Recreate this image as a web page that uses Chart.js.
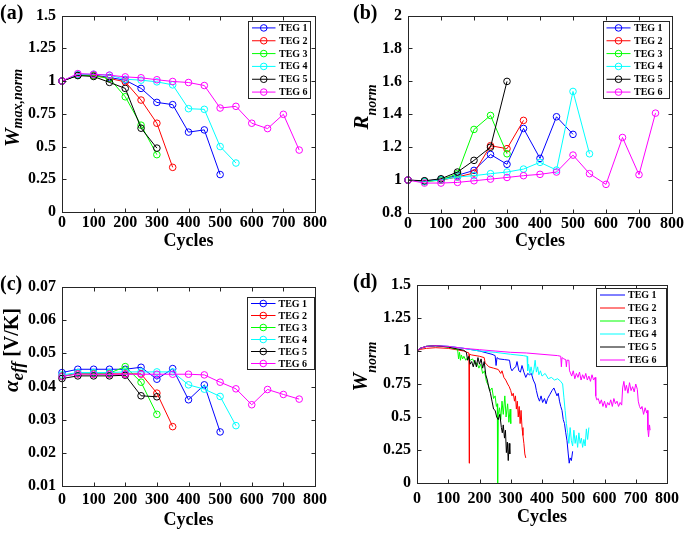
<!DOCTYPE html>
<html><head><meta charset="utf-8">
<script src="https://cdn.jsdelivr.net/npm/chart.js@4.4.1/dist/chart.umd.min.js"></script>
<style>
html,body{margin:0;padding:0;background:#fff;}
#wrap{position:relative;width:685px;height:533px;overflow:hidden;background:#fff;}
canvas{position:absolute;}
</style></head><body>
<div id="wrap">
<canvas id="ca" width="342" height="262" style="left:0;top:0"></canvas>
<canvas id="cb" width="343" height="262" style="left:342px;top:0"></canvas>
<canvas id="cc" width="342" height="271" style="left:0;top:262px"></canvas>
<canvas id="cd" width="343" height="271" style="left:342px;top:262px"></canvas>
</div>
<script>
// ---------- data ----------
const tegNames = ['TEG 1','TEG 2','TEG 3','TEG 4','TEG 5','TEG 6'];
const tegColors = ['#0000ff','#ff0000','#00ff00','#00ffff','#000000','#ff00ff'];
const cycles = [0,50,100,150,200,250,300,350,400,450,500,550,600,650,700,750];

const xTicks = [0,100,200,300,400,500,600,700,800];
const xTickLabels = ['0','100','200','300','400','500','600','700','800'];

// (a) W max,norm
const wTicks = [0,0.25,0.5,0.75,1,1.25,1.5];
const wTickLabels = ['0','0.25','0.5','0.75','1','1.25','1.5'];
const wmax1 = [1,1.045,1.047,1.027,1.007,0.944,0.837,0.82,0.61,0.627,0.286];
const wmax2 = [1,1.045,1.045,1.02,0.994,0.855,0.678,0.341];
const wmax3 = [1,1.045,1.04,1.02,0.88,0.663,0.438];
const wmax4 = [1,1.052,1.052,1.045,1.014,1.007,0.994,0.971,0.789,0.784,0.5,0.374];
const wmax5 = [1,1.042,1.035,0.99,0.944,0.64,0.488];
const wmax6 = [1,1.057,1.052,1.045,1.032,1.025,1.01,0.997,0.989,0.966,0.794,0.807,0.678,0.637,0.746,0.473];

// (b) R norm
const rTicks = [0.8,1,1.2,1.4,1.6,1.8,2];
const rTickLabels = ['0.8','1','1.2','1.4','1.6','1.8','2'];
const r1 = [1,0.994,1.004,1.029,1.059,1.156,1.096,1.314,1.132,1.385,1.278];
const r2 = [1,0.994,1.0,1.019,1.043,1.209,1.191,1.363];
const r3 = [1,0.99,1.0,1.039,1.308,1.393,1.16];
const r4 = [1,0.992,1.002,1.019,1.027,1.039,1.049,1.067,1.108,1.061,1.539,1.16];
const r5 = [1,0.996,1.008,1.049,1.12,1.2,1.6];
const r6 = [1,0.982,0.982,0.986,0.996,1.006,1.016,1.027,1.035,1.049,1.152,1.039,0.974,1.259,1.033,1.407];

// (c) alpha eff
const aTicks = [0.01,0.02,0.03,0.04,0.05,0.06,0.07];
const aTickLabels = ['0.01','0.02','0.03','0.04','0.05','0.06','0.07'];
const a1 = [0.0442,0.0452,0.0452,0.0452,0.0452,0.0458,0.0422,0.0454,0.036,0.0405,0.0263];
const a2 = [0.0432,0.0438,0.0438,0.0438,0.0438,0.0438,0.038,0.0279];
const a3 = [0.043,0.044,0.044,0.044,0.046,0.0413,0.0316];
const a4 = [0.0435,0.0442,0.0442,0.0442,0.0444,0.0444,0.0444,0.0444,0.0405,0.0392,0.037,0.0282];
const a5 = [0.0424,0.0432,0.0432,0.0432,0.0434,0.0372,0.0369];
const a6 = [0.043,0.0438,0.0437,0.0437,0.0437,0.0437,0.0437,0.0437,0.0437,0.0435,0.0413,0.0393,0.0345,0.0391,0.0376,0.0362];

// (d) W norm, [cycle, value]
const dTEG1 = [[0,1.0],[10,1.02],[30,1.035],[60,1.04],[100,1.035],[150,1.02],[200,1.0],[240,0.975],[250,0.965],[253,0.89],[256,0.95],[262,0.94],[280,0.935],[296,0.93],[300,0.87],[304,0.85],[310,0.87],[316,0.88],[320,0.92],[326,0.85],[331,0.84],[336,0.89],[342,0.84],[348,0.80],[354,0.83],[360,0.82],[366,0.83],[372,0.78],[378,0.75],[382,0.70],[387,0.65],[392,0.62],[397,0.66],[402,0.61],[408,0.64],[413,0.60],[418,0.64],[425,0.67],[432,0.70],[438,0.72],[443,0.69],[448,0.66],[452,0.68],[456,0.62],[460,0.58],[464,0.55],[468,0.48],[472,0.45],[476,0.38],[480,0.32],[484,0.22],[487,0.15],[490,0.19],[494,0.17],[498,0.24]];
const dTEG2 = [[0,1.0],[10,1.012],[30,1.02],[60,1.025],[100,1.02],[150,1.0],[166,0.985],[167,0.15],[168,0.975],[175,0.97],[200,0.96],[215,0.95],[218,0.91],[222,0.90],[230,0.88],[245,0.87],[260,0.86],[268,0.83],[272,0.85],[278,0.80],[284,0.78],[290,0.75],[295,0.73],[300,0.70],[304,0.66],[308,0.68],[312,0.62],[315,0.66],[318,0.56],[321,0.62],[324,0.50],[327,0.58],[330,0.45],[333,0.55],[336,0.42],[339,0.36],[342,0.30],[345,0.22],[348,0.19]];
const dTEG3 = [[0,1.0],[10,1.02],[30,1.035],[60,1.04],[100,1.03],[130,1.01],[133,0.94],[136,0.99],[139,0.93],[142,0.97],[146,0.94],[150,0.96],[156,0.93],[162,0.95],[170,0.93],[178,0.94],[186,0.90],[192,0.91],[198,0.87],[204,0.90],[210,0.83],[216,0.85],[222,0.77],[228,0.74],[234,0.70],[240,0.72],[245,0.64],[250,0.66],[254,0.58],[257,0.60],[258,0.0],[260,0.52],[264,0.57],[268,0.48],[272,0.62],[276,0.52],[281,0.66],[285,0.50],[290,0.60],[294,0.46],[298,0.56],[300,0.45]];
const dTEG4 = [[0,1.0],[10,1.02],[30,1.035],[60,1.04],[100,1.035],[150,1.02],[200,1.0],[250,0.99],[300,0.975],[340,0.965],[352,0.96],[354,0.85],[357,0.90],[361,0.83],[365,0.88],[370,0.82],[374,0.86],[378,0.93],[382,0.84],[386,0.88],[390,0.82],[395,0.85],[400,0.81],[410,0.83],[420,0.79],[430,0.80],[440,0.78],[450,0.79],[460,0.77],[466,0.75],[470,0.65],[474,0.55],[478,0.45],[482,0.38],[486,0.30],[490,0.42],[494,0.32],[498,0.28],[502,0.40],[506,0.30],[510,0.36],[514,0.27],[518,0.38],[522,0.30],[526,0.34],[530,0.27],[534,0.33],[538,0.28],[542,0.41],[546,0.33],[550,0.42]];
const dTEG5 = [[0,1.0],[10,1.02],[30,1.035],[60,1.04],[100,1.03],[150,1.005],[158,0.99],[162,0.93],[166,0.96],[170,0.90],[175,0.92],[180,0.88],[185,0.93],[190,0.88],[195,0.95],[200,0.90],[205,0.94],[210,0.87],[215,0.92],[220,0.82],[225,0.78],[230,0.72],[235,0.68],[240,0.62],[245,0.56],[250,0.55],[255,0.50],[260,0.48],[265,0.52],[270,0.42],[273,0.38],[276,0.44],[280,0.34],[283,0.40],[286,0.23],[289,0.31],[292,0.17],[295,0.30],[297,0.22]];
const dTEG6 = [[0,1.0],[10,1.02],[30,1.035],[60,1.04],[100,1.035],[150,1.02],[200,1.01],[250,1.0],[300,0.99],[350,0.985],[400,0.975],[450,0.965],[460,0.96],[462,0.88],[464,0.95],[470,0.94],[476,0.935],[478,0.88],[480,0.93],[486,0.93],[488,0.85],[490,0.84],[495,0.81],[500,0.85],[505,0.79],[510,0.83],[515,0.80],[520,0.84],[525,0.78],[530,0.82],[535,0.79],[540,0.83],[545,0.78],[550,0.81],[555,0.77],[560,0.82],[565,0.78],[570,0.80],[572,0.66],[575,0.63],[580,0.64],[585,0.60],[590,0.63],[595,0.58],[600,0.62],[605,0.57],[610,0.61],[615,0.59],[620,0.63],[625,0.58],[630,0.64],[635,0.60],[640,0.62],[645,0.58],[650,0.61],[655,0.59],[658,0.72],[662,0.77],[666,0.70],[670,0.74],[675,0.68],[680,0.76],[685,0.70],[690,0.73],[695,0.69],[700,0.75],[705,0.71],[708,0.62],[712,0.58],[716,0.56],[720,0.58],[725,0.52],[730,0.57],[735,0.53],[737,0.55],[739,0.40],[741,0.35],[744,0.44],[746,0.40]];

// ---------- helpers ----------
const SERIF = "'Liberation Serif','Times New Roman',serif";
const AXIS_COLOR = '#262626';

function seriesFromCycles(vals) { return vals.map((v, i) => ({x: cycles[i], y: v})); }
function seriesFromPairs(p) { return p.map(q => ({x: q[0], y: q[1]})); }

function makeDatasets(list, markers) {
  return list.map((pts, i) => ({
    label: tegNames[i],
    data: pts,
    borderColor: tegColors[i],
    backgroundColor: 'rgba(0,0,0,0)',
    borderWidth: 1,
    pointRadius: markers ? 3.3 : 0,
    pointBorderWidth: 1,
    pointBorderColor: tegColors[i],
    pointBackgroundColor: 'rgba(0,0,0,0)',
    tension: 0,
    clip: false,
    order: 6 - i
  }));
}

const framePlugin = {
  id: 'frame',
  afterDatasetsDraw(chart) {
    const {ctx, chartArea: ca, scales: {x, y}} = chart;
    ctx.save();
    ctx.strokeStyle = AXIS_COLOR;
    ctx.lineWidth = 1;
    const l = Math.round(ca.left) + 0.5, r = Math.round(ca.right) + 0.5;
    const t = Math.round(ca.top) + 0.5, b = Math.round(ca.bottom) + 0.5;
    ctx.strokeRect(l, t, r - l, b - t);
    const L = 4;
    ctx.beginPath();
    x.ticks.forEach(tk => {
      const px = Math.round(x.getPixelForValue(tk.value)) + 0.5;
      ctx.moveTo(px, b); ctx.lineTo(px, b - L);
      ctx.moveTo(px, t); ctx.lineTo(px, t + L);
    });
    y.ticks.forEach(tk => {
      const py = Math.round(y.getPixelForValue(tk.value)) + 0.5;
      ctx.moveTo(l, py); ctx.lineTo(l + L, py);
      ctx.moveTo(r, py); ctx.lineTo(r - L, py);
    });
    ctx.stroke();
    ctx.restore();
  }
};

const legendPlugin = {
  id: 'tegLegend',
  afterDraw(chart, args, o) {
    const {ctx, chartArea: ca} = chart;
    const left = Math.round(ca.right - o.gapRight - o.w) + 0.5;
    const top = Math.round(ca.top + o.gapTop) + 0.5;
    ctx.save();
    ctx.fillStyle = '#fff';
    ctx.fillRect(left, top, o.w, o.h);
    ctx.strokeStyle = AXIS_COLOR;
    ctx.lineWidth = 1;
    ctx.strokeRect(left, top, o.w, o.h);
    const n = chart.data.datasets.length;
    const rowH = o.h / n;
    chart.data.datasets.forEach((ds, i) => {
      const cy = top + rowH / 2 + i * rowH;
      ctx.strokeStyle = ds.borderColor;
      ctx.lineWidth = 1;
      ctx.beginPath();
      ctx.moveTo(left + o.lx0, cy); ctx.lineTo(left + o.lx1, cy);
      ctx.stroke();
      if (o.markers) {
        ctx.beginPath();
        ctx.arc(left + (o.lx0 + o.lx1) / 2, cy, 3.3, 0, Math.PI * 2);
        ctx.stroke();
      }
      ctx.fillStyle = '#000';
      ctx.font = 'bold 10px ' + SERIF;
      ctx.textBaseline = 'middle';
      ctx.textAlign = 'left';
      ctx.fillText(ds.label, left + o.tx, cy + 0.5);
    });
    ctx.restore();
  }
};

const annotPlugin = {
  id: 'annot',
  afterDraw(chart, args, o) {
    const {ctx} = chart;
    ctx.save();
    // panel label
    ctx.fillStyle = '#000';
    ctx.font = 'bold 20px ' + SERIF;
    ctx.textBaseline = 'middle';
    ctx.textAlign = 'left';
    ctx.fillText(o.label, o.labelX, o.labelY);
    // rotated y title
    let total = 0;
    o.parts.forEach(p => { ctx.font = p.f; p.w = ctx.measureText(p.t).width; total += p.w; });
    ctx.translate(o.tx, o.ty);
    ctx.rotate(-Math.PI / 2);
    ctx.textBaseline = 'alphabetic';
    let cx = -total / 2;
    o.parts.forEach(p => {
      ctx.font = p.f;
      ctx.fillText(p.t, cx, p.dy);
      cx += p.w;
    });
    ctx.restore();
  }
};

function makeChart(id, cfg) {
  const tickFont = {family: SERIF, size: 16, weight: 'bold'};
  return new Chart(document.getElementById(id), {
    type: 'line',
    data: {datasets: cfg.datasets},
    options: {
      responsive: false,
      animation: false,
      devicePixelRatio: 1,
      layout: {padding: {left: 0, top: cfg.padTop, right: cfg.padRight, bottom: 0}},
      plugins: {
        legend: {display: false},
        tooltip: {enabled: false},
        tegLegend: cfg.legend,
        annot: cfg.annot
      },
      scales: {
        x: {
          type: 'linear', min: 0, max: 800,
          afterBuildTicks: s => { s.ticks = xTicks.map(v => ({value: v})); },
          ticks: {font: tickFont, color: '#000', padding: cfg.xTickPad, maxRotation: 0, autoSkip: false,
                  callback: (v, i) => xTickLabels[i]},
          grid: {display: false, drawTicks: false},
          border: {display: false},
          title: {display: true, text: 'Cycles', color: '#000',
                  font: {family: SERIF, size: 18, weight: 'bold'},
                  padding: {top: 0, bottom: cfg.xTitlePad}},
          afterFit: s => { s.height = cfg.xH; }
        },
        y: {
          type: 'linear', min: cfg.yTicks[0], max: cfg.yTicks[cfg.yTicks.length - 1],
          afterBuildTicks: s => { s.ticks = cfg.yTicks.map(v => ({value: v})); },
          ticks: {font: tickFont, color: '#000', padding: 6, autoSkip: false,
                  callback: (v, i) => cfg.yLabels[i]},
          grid: {display: false, drawTicks: false},
          border: {display: false},
          afterFit: s => { s.width = cfg.yW; }
        }
      }
    },
    plugins: [framePlugin, legendPlugin, annotPlugin]
  });
}

const MAIN = 'italic bold 21px ' + SERIF;
const SUB = 'italic bold 14px ' + SERIF;

// (a)
makeChart('ca', {
  datasets: makeDatasets([wmax1, wmax2, wmax3, wmax4, wmax5, wmax6].map(seriesFromCycles), true),
  yTicks: wTicks, yLabels: wTickLabels,
  padTop: 15, padRight: 27, yW: 62, xH: 50, xTickPad: 1, xTitlePad: 10,
  legend: {gapRight: 5, gapTop: 5, w: 62, h: 77, lx0: 3.5, lx1: 27, tx: 30.5, markers: true},
  annot: {label: '(a)', labelX: 0, labelY: 13.5, tx: 19, ty: 108,
          parts: [{t: 'W', f: MAIN, dy: 0}, {t: 'max,norm', f: SUB, dy: 3}]}
});
// (b)
makeChart('cb', {
  datasets: makeDatasets([r1, r2, r3, r4, r5, r6].map(seriesFromCycles), true),
  yTicks: rTicks, yLabels: rTickLabels,
  padTop: 15, padRight: 13, yW: 66, xH: 49, xTickPad: 1, xTitlePad: 10,
  legend: {gapRight: 3, gapTop: 5, w: 66, h: 77, lx0: 3, lx1: 27, tx: 30.5, markers: true},
  annot: {label: '(b)', labelX: 11, labelY: 14, tx: 26, ty: 107,
          parts: [{t: 'R', f: MAIN, dy: 0}, {t: 'norm', f: SUB, dy: 8}]}
});
// (c)
makeChart('cc', {
  datasets: makeDatasets([a1, a2, a3, a4, a5, a6].map(seriesFromCycles), true),
  yTicks: aTicks, yLabels: aTickLabels,
  padTop: 25, padRight: 27, yW: 62, xH: 47, xTickPad: 4, xTitlePad: 2,
  legend: {gapRight: 1, gapTop: 10, w: 67, h: 72, lx0: 3.5, lx1: 28, tx: 31, markers: true},
  annot: {label: '(c)', labelX: 0, labelY: 23, tx: 18, ty: 88,
          parts: [{t: 'α', f: MAIN, dy: 0}, {t: 'eff', f: 'italic bold 17px ' + SERIF, dy: 5},
                  {t: ' [V/K]', f: 'bold 20px ' + SERIF, dy: 0}]}
});
// (d)
makeChart('cd', {
  datasets: makeDatasets([dTEG1, dTEG2, dTEG3, dTEG4, dTEG5, dTEG6].map(seriesFromPairs), false),
  yTicks: wTicks, yLabels: wTickLabels,
  padTop: 23, padRight: 12, yW: 75, xH: 50, xTickPad: 6, xTitlePad: 5,
  legend: {gapRight: 1.5, gapTop: 3, w: 70, h: 78, lx0: 3.5, lx1: 28.5, tx: 31.5, markers: false},
  annot: {label: '(d)', labelX: 11, labelY: 20.5, tx: 25, ty: 104.5,
          parts: [{t: 'W', f: MAIN, dy: 0}, {t: 'norm', f: SUB, dy: 9}]}
});
</script>
</body></html>
